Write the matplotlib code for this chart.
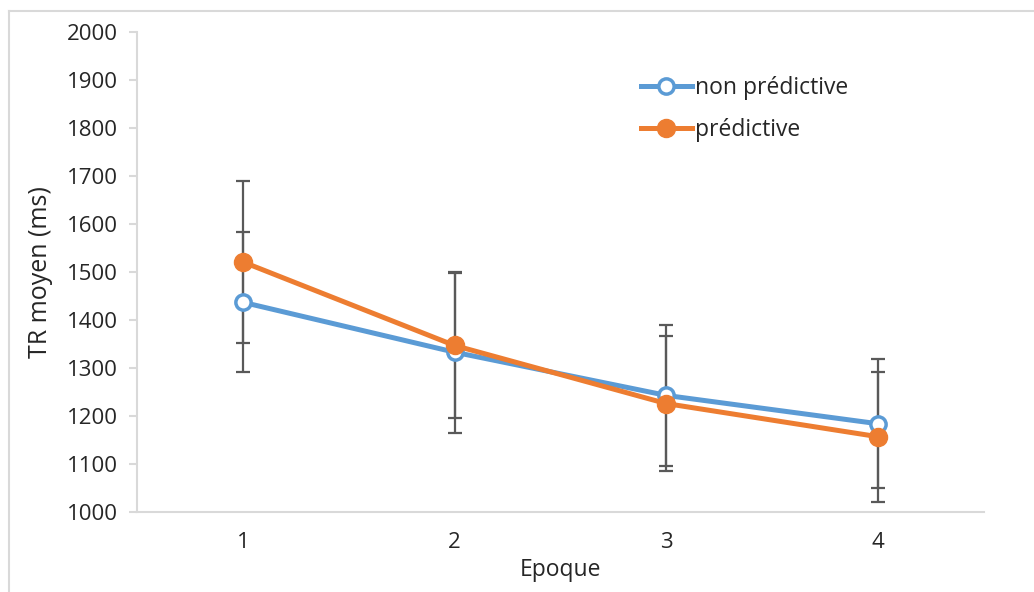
import matplotlib
matplotlib.use('Agg')
import matplotlib.pyplot as plt
from matplotlib.lines import Line2D

plt.rcParams['font.family'] = ['Open Sans', 'DejaVu Sans']

epoques = [1, 2, 3, 4]
non_pred = [1437, 1333, 1243, 1184]
non_pred_err = [146, 168, 146, 134]
pred = [1521, 1347, 1226, 1157]
pred_err = [168, 152, 140, 135]

blue = '#5B9BD5'
orange = '#ED7D31'
txt = '#262626'

fig = plt.figure(figsize=(10.34, 5.92), dpi=100)
ax = fig.add_axes([0.1325, 0.135, 0.819, 0.811])

# error bars first so the lines sit on top
ax.errorbar(epoques, non_pred, yerr=non_pred_err, fmt='none', ecolor='#595959',
            elinewidth=1.6, capsize=4.7, capthick=1.6, zorder=2)
ax.errorbar(epoques, pred, yerr=pred_err, fmt='none', ecolor='#595959',
            elinewidth=1.6, capsize=4.7, capthick=1.6, zorder=2)

ax.plot(epoques, non_pred, color=blue, lw=3.6, marker='o', ms=11,
        mfc='white', mec=blue, mew=2.5, label='non prédictive', zorder=3)
ax.plot(epoques, pred, color=orange, lw=3.6, marker='o', ms=13,
        mfc=orange, mec=orange, label='prédictive', zorder=4)

ax.set_xlim(0.5, 4.5)
ax.set_ylim(1000, 2000)
ax.set_xticks(epoques)
ax.set_yticks(range(1000, 2001, 100))

for s in ['top', 'right']:
    ax.spines[s].set_visible(False)
for s in ['left', 'bottom']:
    ax.spines[s].set_color('#D9D9D9')
    ax.spines[s].set_linewidth(1.5)
ax.tick_params(axis='y', length=6, width=1.5, color='#D9D9D9', pad=8,
               labelsize=16, labelcolor=txt)
ax.tick_params(axis='x', length=0, pad=14, labelsize=16, labelcolor=txt)

ax.set_xlabel('Epoque', fontsize=16.5, color=txt, labelpad=4)
ax.set_ylabel('TR moyen (ms)', fontsize=18, color=txt, labelpad=10)

ax.legend(loc='upper left', bbox_to_anchor=(0.571, 0.952), frameon=False,
          fontsize=16.5, handlelength=2.2, handletextpad=0.15, labelspacing=0.82,
          labelcolor=txt)

# outer chart border (left and top visible in the crop)
fig.add_artist(Line2D([9 / 1034, 9 / 1034], [0, 1 - 11 / 592], color='#D9D9D9', lw=1.5))
fig.add_artist(Line2D([9 / 1034, 1], [1 - 11 / 592, 1 - 11 / 592], color='#D9D9D9', lw=1.5))

fig.savefig('out.png', dpi=100)
